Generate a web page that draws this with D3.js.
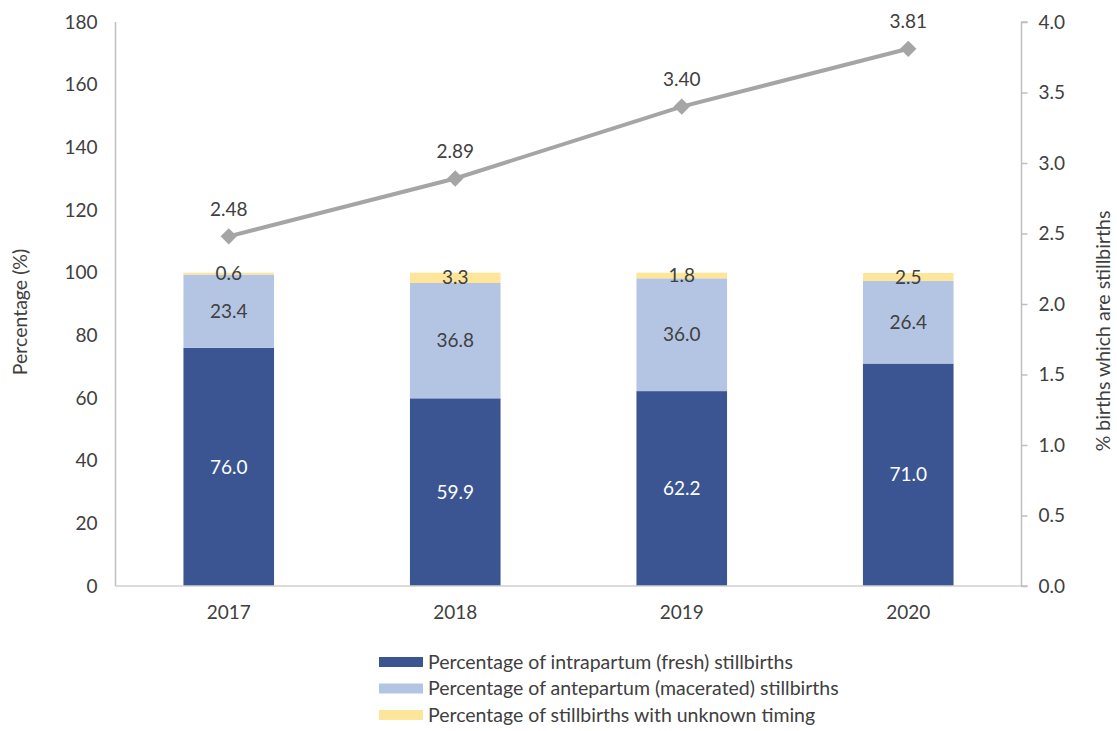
<!DOCTYPE html>
<html>
<head>
<meta charset="utf-8">
<script src="https://cdn.jsdelivr.net/npm/d3@7"></script>
<style>
  body { margin: 0; background: #fff; }
  text { font-family: Lato, "Open Sans", sans-serif; }
</style>
</head>
<body>
<div id="chart"></div>
<script>
var years = ['2017', '2018', '2019', '2020'];
var intrapartum = [76.0, 59.9, 62.2, 71.0];
var antepartum = [23.4, 36.8, 36.0, 26.4];
var unknownTiming = [0.6, 3.3, 1.8, 2.5];
var stillbirthRate = [2.48, 2.89, 3.40, 3.81];
var leftTicks = [0, 20, 40, 60, 80, 100, 120, 140, 160, 180];
var rightTicks = [0, 0.5, 1, 1.5, 2, 2.5, 3, 3.5, 4];
var seriesNames = [
  'Percentage of intrapartum (fresh) stillbirths',
  'Percentage of antepartum (macerated) stillbirths',
  'Percentage of stillbirths with unknown timing'
];

var WIDTH = 1117;
var HEIGHT = 731;
var LEFT = 115.5;
var RIGHT = 1021.5;
var TOP = 22;
var BOTTOM = 586;
var COLORS = ['#3B5592', '#B4C5E4', '#FDE59A'];
var LINE_COLOR = '#A5A5A5';
var TEXT_COLOR = '#404040';
var AXIS_COLOR = '#BFBFBF';
var FONT = 'Lato, "Open Sans", sans-serif';

var root = d3.select('#chart')
  .append('svg')
  .attr('width', WIDTH)
  .attr('height', HEIGHT);

var x = d3.scaleBand()
  .domain(years)
  .range([LEFT, RIGHT])
  .paddingInner(0.6)
  .paddingOuter(0.3);

var yLeft = d3.scaleLinear().domain([0, 180]).range([BOTTOM, TOP]);
var yRight = d3.scaleLinear().domain([0, 4]).range([BOTTOM, TOP]);

// stacked bars
var rows = years.map(function(y, i) {
  return { year: y, a: intrapartum[i], b: antepartum[i], c: unknownTiming[i] };
});
var stack = d3.stack().keys(['a', 'b', 'c'])(rows);

stack.forEach(function(layer, k) {
  root.append('g')
    .selectAll('rect')
    .data(layer)
    .enter()
    .append('rect')
    .attr('x', function(d) { return x(d.data.year); })
    .attr('y', function(d) { return yLeft(d[1]); })
    .attr('width', x.bandwidth())
    .attr('height', function(d) { return yLeft(d[0]) - yLeft(d[1]); })
    .style('fill', COLORS[k]);

  root.append('g')
    .selectAll('text')
    .data(layer)
    .enter()
    .append('text')
    .attr('x', function(d) { return x(d.data.year) + x.bandwidth() / 2; })
    .attr('y', function(d) { return yLeft((d[0] + d[1]) / 2); })
    .attr('dy', '0.35em')
    .attr('text-anchor', 'middle')
    .style('font-size', '19px')
    .style('fill', k === 0 ? '#ffffff' : TEXT_COLOR)
    .text(function(d) { return (d[1] - d[0]).toFixed(1); });
});

// axes lines
root.append('line')
  .attr('x1', LEFT).attr('y1', TOP)
  .attr('x2', LEFT).attr('y2', BOTTOM)
  .style('stroke', AXIS_COLOR).style('stroke-width', 1.5);

root.append('line')
  .attr('x1', LEFT).attr('y1', BOTTOM)
  .attr('x2', RIGHT).attr('y2', BOTTOM)
  .style('stroke', '#D0D0D0').style('stroke-width', 1.5);

var rightAxis = root.append('g')
  .attr('transform', 'translate(' + RIGHT + ',0)')
  .call(d3.axisRight(yRight).tickValues(rightTicks).tickSize(6).tickPadding(11)
    .tickFormat(d3.format('.1f')));
rightAxis.select('.domain').style('stroke', AXIS_COLOR).style('stroke-width', 1.5)
  .attr('d', 'M6,' + TOP + 'H0V' + BOTTOM + 'H6');
rightAxis.selectAll('.tick line').style('stroke', AXIS_COLOR).style('stroke-width', 1.5);
rightAxis.selectAll('.tick text')
  .style('font-size', '19px').style('fill', TEXT_COLOR)
  .style('font-family', FONT);

var leftAxis = root.append('g')
  .attr('transform', 'translate(' + LEFT + ',0)')
  .call(d3.axisLeft(yLeft).tickValues(leftTicks).tickSize(0).tickPadding(18));
leftAxis.select('.domain').remove();
leftAxis.selectAll('.tick text')
  .style('font-size', '19px').style('fill', TEXT_COLOR)
  .style('font-family', FONT);

var bottomAxis = root.append('g')
  .attr('transform', 'translate(0,' + BOTTOM + ')')
  .call(d3.axisBottom(x).tickSize(0).tickPadding(20));
bottomAxis.select('.domain').remove();
bottomAxis.selectAll('.tick text')
  .style('font-size', '19px').style('fill', TEXT_COLOR)
  .style('font-family', FONT);

// axis titles
root.append('text')
  .attr('transform', 'translate(27,312) rotate(-90)')
  .attr('text-anchor', 'middle')
  .style('font-size', '19.5px').style('fill', TEXT_COLOR)
  .text('Percentage (%)');

root.append('text')
  .attr('transform', 'translate(1110,331) rotate(-90)')
  .attr('text-anchor', 'middle')
  .style('font-size', '19.5px').style('fill', TEXT_COLOR)
  .text('% births which are stillbirths');

// line series on right axis
var cx = function(d, i) { return x(years[i]) + x.bandwidth() / 2; };
var line = d3.line()
  .x(cx)
  .y(function(d) { return yRight(d); });

root.append('path')
  .datum(stillbirthRate)
  .attr('d', line)
  .style('fill', 'none')
  .style('stroke', LINE_COLOR)
  .style('stroke-width', 4);

root.append('g')
  .selectAll('path')
  .data(stillbirthRate)
  .enter()
  .append('path')
  .attr('d', d3.symbol().type(d3.symbolDiamond2).size(170))
  .attr('transform', function(d, i) {
    return 'translate(' + cx(d, i) + ',' + yRight(d) + ')';
  })
  .style('fill', LINE_COLOR);

root.append('g')
  .selectAll('text')
  .data(stillbirthRate)
  .enter()
  .append('text')
  .attr('x', cx)
  .attr('y', function(d) { return yRight(d) - 27; })
  .attr('dy', '0.35em')
  .attr('text-anchor', 'middle')
  .style('font-size', '19px')
  .style('fill', TEXT_COLOR)
  .text(function(d) { return d.toFixed(2); });

// legend
var legend = root.append('g').attr('transform', 'translate(379,655)');
seriesNames.forEach(function(name, i) {
  legend.append('rect')
    .attr('x', 0)
    .attr('y', i * 26.5 + 2)
    .attr('width', 44)
    .attr('height', 10)
    .style('fill', COLORS[i]);
  legend.append('text')
    .attr('x', 49)
    .attr('y', i * 26.5 + 7)
    .attr('dy', '0.35em')
    .style('font-size', '19.5px')
    .style('fill', TEXT_COLOR)
    .text(name);
});
</script>
</body>
</html>
